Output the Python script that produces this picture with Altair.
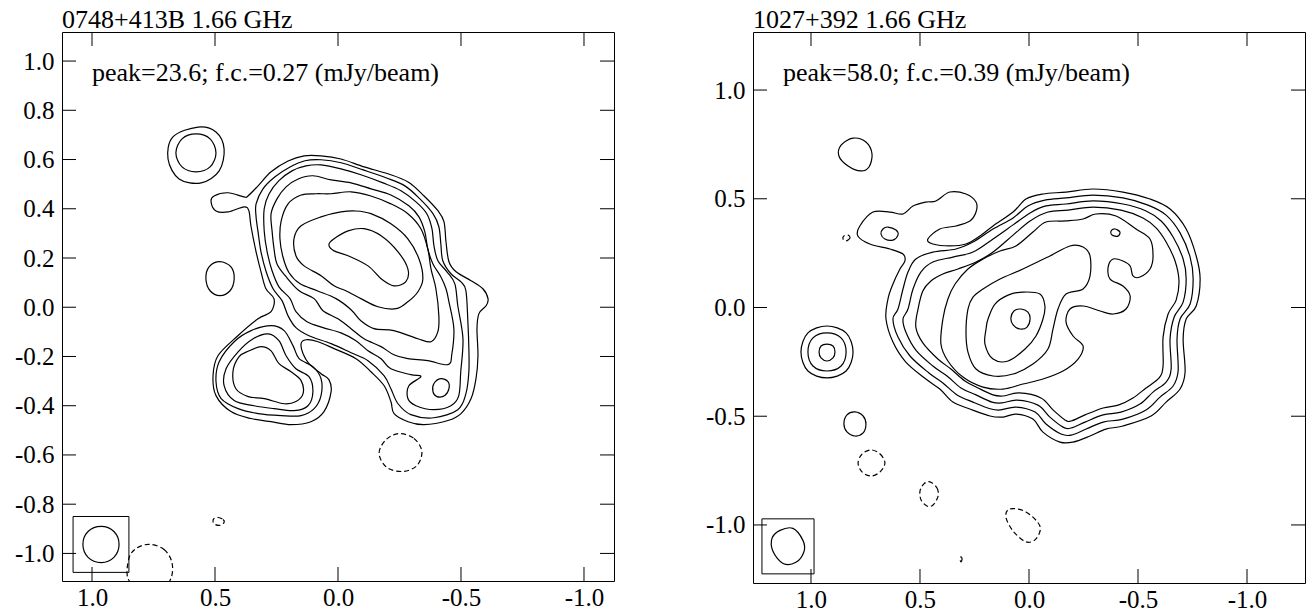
import altair as alt
import pandas as pd

# ---------------- text ----------------
TITLE_L = "0748+413B 1.66 GHz"
TITLE_R = "1027+392 1.66 GHz"
NOTE_L = "peak=23.6; f.c.=0.27 (mJy/beam)"
NOTE_R = "peak=58.0; f.c.=0.39 (mJy/beam)"

# ---------------- axes (arcsec) ----------------
XTICKS = [1.0, 0.5, 0.0, -0.5, -1.0]
YTICKS_L = [-1.0, -0.8, -0.6, -0.4, -0.2, 0.0, 0.2, 0.4, 0.6, 0.8, 1.0]
YTICKS_R = [-1.0, -0.5, 0.0, 0.5, 1.0]
XDOM_L = [1.122, -1.122]
YDOM_L = [-1.112, 1.118]
XDOM_R = [1.266, -1.266]
YDOM_R = [-1.267, 1.267]

# ---------------- left source: contours (x, y) in arcsec ----------------
L_C1 = [(0.366,0.452),(0.325,0.493),(0.272,0.550),(0.203,0.594),(0.138,0.615),(0.069,0.615),(-0.012,0.602),
        (-0.106,0.570),(-0.203,0.542),(-0.285,0.509),(-0.350,0.452),(-0.407,0.391),(-0.431,0.347),(-0.439,0.266),
        (-0.451,0.185),(-0.480,0.144),(-0.541,0.108),(-0.589,0.075),(-0.610,0.034),(-0.602,0.006),(-0.573,-0.026),
        (-0.565,-0.087),(-0.569,-0.197),(-0.561,-0.290),(-0.541,-0.371),(-0.500,-0.432),(-0.447,-0.460),(-0.350,-0.477),
        (-0.285,-0.465),(-0.228,-0.432),(-0.215,-0.383),(-0.187,-0.318),(-0.134,-0.262),(-0.073,-0.209),(0.016,-0.168),
        (0.081,-0.140),(0.130,-0.132),(0.150,-0.148),(0.142,-0.189),(0.118,-0.229),(0.069,-0.270),(0.037,-0.294),
        (0.028,-0.343),(0.057,-0.424),(0.110,-0.465),(0.191,-0.477),(0.272,-0.465),(0.354,-0.452),(0.435,-0.424),
        (0.496,-0.359),(0.508,-0.278),(0.488,-0.197),(0.407,-0.116),(0.325,-0.047),(0.272,-0.018),(0.260,0.034),
        (0.293,0.075),(0.313,0.144),(0.333,0.225),(0.354,0.331),(0.362,0.391),(0.382,0.408),(0.447,0.387),
        (0.496,0.391),(0.516,0.428),(0.504,0.452),(0.447,0.465),(0.382,0.448)]
L_C2 = [(0.333,0.420),(0.305,0.481),(0.256,0.530),(0.195,0.570),(0.134,0.595),(0.069,0.599),(-0.012,0.587),
        (-0.102,0.558),(-0.195,0.526),(-0.272,0.493),(-0.333,0.440),(-0.386,0.380),(-0.410,0.327),(-0.418,0.258),
        (-0.426,0.189),(-0.459,0.136),(-0.499,0.104),(-0.520,0.067),(-0.528,-0.059),(-0.532,-0.168),(-0.532,-0.262),
        (-0.520,-0.351),(-0.487,-0.416),(-0.390,-0.449),(-0.296,-0.436),(-0.244,-0.392),(-0.215,-0.331),(-0.187,-0.278),
        (-0.122,-0.217),(-0.053,-0.185),(0.028,-0.148),(0.118,-0.116),(0.171,-0.083),(0.203,-0.035),(0.227,0.026),
        (0.264,0.075),(0.292,0.144),(0.313,0.225),(0.325,0.306),(0.333,0.367)]
L_C3 = [(0.300,0.400),(0.280,0.461),(0.240,0.514),(0.187,0.554),(0.130,0.574),(0.069,0.578),(-0.012,0.562),
        (-0.093,0.538),(-0.183,0.505),(-0.256,0.473),(-0.317,0.428),(-0.361,0.380),(-0.382,0.319),(-0.390,0.250),
        (-0.406,0.189),(-0.443,0.144),(-0.475,0.095),(-0.487,0.006),(-0.508,-0.128),(-0.499,-0.262),(-0.491,-0.359),
        (-0.459,-0.400),(-0.390,-0.416),(-0.317,-0.400),(-0.284,-0.371),(-0.288,-0.319),(-0.337,-0.282),(-0.296,-0.274),
        (-0.215,-0.250),(-0.175,-0.209),(-0.122,-0.177),(-0.073,-0.136),(-0.012,-0.104),(0.061,-0.083),(0.126,-0.059),
        (0.171,-0.018),(0.195,0.035),(0.240,0.083),(0.268,0.148),(0.288,0.225),(0.300,0.310)]
L_C4 = [(0.272,0.380),(0.248,0.440),(0.211,0.489),(0.162,0.521),(0.102,0.534),(0.028,0.517),(-0.053,0.505),
        (-0.134,0.481),(-0.215,0.456),(-0.288,0.412),(-0.329,0.367),(-0.353,0.306),(-0.365,0.237),(-0.386,0.176),
        (-0.418,0.124),(-0.439,0.075),(-0.451,0.022),(-0.471,-0.087),(-0.463,-0.189),(-0.447,-0.233),(-0.365,-0.217),
        (-0.284,-0.209),(-0.227,-0.193),(-0.175,-0.160),(-0.106,-0.128),(-0.053,-0.087),(0.000,-0.047),(0.061,-0.014),
        (0.097,0.035),(0.158,0.067),(0.211,0.124),(0.248,0.176),(0.260,0.237),(0.268,0.310)]
L_C4B = [(-0.418,-0.290),(-0.447,-0.302),(-0.451,-0.331),(-0.434,-0.359),(-0.402,-0.363),(-0.386,-0.343),(-0.390,-0.310)]
L_C5 = [(0.231,0.351),(0.203,0.420),(0.150,0.456),(0.089,0.461),(0.028,0.461),(-0.053,0.469),(-0.134,0.452),
        (-0.215,0.420),(-0.284,0.380),(-0.337,0.319),(-0.365,0.237),(-0.378,0.156),(-0.398,0.075),(-0.410,-0.035),
        (-0.406,-0.099),(-0.378,-0.140),(-0.325,-0.128),(-0.227,-0.095),(-0.146,-0.087),(-0.093,-0.055),(-0.053,-0.010),
        (0.008,0.035),(0.085,0.067),(0.154,0.095),(0.199,0.140),(0.224,0.205),(0.236,0.278)]
L_C6 = [(0.179,0.278),(0.150,0.331),(0.069,0.367),(-0.012,0.387),(-0.073,0.391),(-0.134,0.380),(-0.215,0.339),
        (-0.284,0.278),(-0.329,0.197),(-0.345,0.116),(-0.325,0.063),(-0.284,0.022),(-0.236,-0.006),(-0.162,0.002),
        (-0.093,0.035),(-0.032,0.067),(0.016,0.087),(0.069,0.128),(0.138,0.168),(0.171,0.209)]
L_C7 = [(0.037,0.254),(0.016,0.278),(-0.041,0.310),(-0.106,0.319),(-0.175,0.290),(-0.244,0.225),(-0.284,0.156),
        (-0.276,0.104),(-0.227,0.087),(-0.175,0.116),(-0.122,0.168),(-0.041,0.209),(0.016,0.229)]
L_B2 = [(0.272,-0.075),(0.219,-0.095),(0.183,-0.156),(0.158,-0.209),(0.102,-0.241),(0.069,-0.290),(0.069,-0.359),
        (0.097,-0.412),(0.150,-0.440),(0.231,-0.440),(0.325,-0.432),(0.406,-0.412),(0.475,-0.371),(0.496,-0.302),
        (0.483,-0.221),(0.422,-0.140),(0.353,-0.095)]
L_B3 = [(0.284,-0.108),(0.240,-0.136),(0.211,-0.197),(0.171,-0.250),(0.118,-0.282),(0.102,-0.343),(0.122,-0.400),
        (0.179,-0.420),(0.260,-0.412),(0.341,-0.400),(0.422,-0.379),(0.463,-0.318),(0.455,-0.250),(0.406,-0.181),
        (0.345,-0.128)]
L_B4 = [(0.313,-0.160),(0.272,-0.177),(0.240,-0.229),(0.191,-0.262),(0.150,-0.298),(0.142,-0.351),(0.171,-0.383),
        (0.219,-0.392),(0.300,-0.371),(0.365,-0.363),(0.415,-0.331),(0.427,-0.262),(0.402,-0.201),(0.361,-0.177)]
L_R1 = [(0.569,0.732),(0.496,0.712),(0.463,0.643),(0.483,0.554),(0.556,0.505),(0.646,0.521),(0.691,0.602),(0.671,0.692)]
L_R2 = [(0.577,0.704),(0.520,0.684),(0.496,0.627),(0.520,0.570),(0.577,0.550),(0.634,0.570),(0.659,0.627),(0.634,0.684)]
L_S1 = [(0.480,0.185),(0.435,0.164),(0.422,0.116),(0.439,0.067),(0.480,0.047),(0.520,0.067),(0.537,0.116),(0.524,0.164)]
# negative (dashed) contours
L_N1 = [(-0.248,-0.513),(-0.309,-0.533),(-0.341,-0.586),(-0.321,-0.643),(-0.264,-0.667),(-0.199,-0.651),(-0.167,-0.594),(-0.195,-0.538)]
L_N2 = [(0.487,-0.854),(0.467,-0.862),(0.463,-0.874),(0.480,-0.886),(0.500,-0.882),(0.508,-0.870),(0.504,-0.858)]
L_N3 = [(0.768,-0.963),(0.707,-0.984),(0.675,-1.037),(0.679,-1.101),(0.720,-1.150),(0.801,-1.150),(0.854,-1.101),(0.850,-1.020),(0.821,-0.980)]
# restoring beam
L_BEAM = [(0.963,-0.890),(0.911,-0.911),(0.890,-0.963),(0.911,-1.016),(0.963,-1.037),(1.016,-1.016),(1.037,-0.963),(1.016,-0.911)]
L_BOX = [1.077, 0.850, -0.850, -1.077]

# ---------------- right source ----------------
R_C1 = [(0.785,0.329),(0.776,0.375),(0.716,0.439),(0.638,0.439),(0.578,0.430),(0.532,0.467),(0.473,0.485),(0.427,0.490),
        (0.363,0.531),(0.289,0.522),(0.243,0.485),(0.243,0.439),(0.271,0.398),(0.335,0.375),(0.409,0.361),(0.464,0.315),
        (0.441,0.292),(0.363,0.283),(0.289,0.292),(0.225,0.329),(0.165,0.375),(0.073,0.439),(0.014,0.499),(-0.064,0.522),
        (-0.170,0.531),(-0.294,0.545),(-0.431,0.531),(-0.555,0.499),(-0.647,0.453),(-0.721,0.361),(-0.767,0.237),
        (-0.785,0.131),(-0.767,0.007),(-0.721,-0.053),(-0.707,-0.145),(-0.716,-0.297),(-0.693,-0.375),(-0.629,-0.435),
        (-0.560,-0.499),(-0.431,-0.545),(-0.353,-0.559),(-0.280,-0.591),(-0.202,-0.619),(-0.142,-0.619),(-0.064,-0.573),
        (-0.018,-0.513),(0.060,-0.490),(0.119,-0.504),(0.179,-0.499),(0.271,-0.467),(0.349,-0.435),(0.409,-0.375),
        (0.473,-0.329),(0.565,-0.251),(0.624,-0.159),(0.656,-0.053),(0.647,0.039),(0.624,0.108),(0.592,0.177),
        (0.569,0.214),(0.578,0.246),(0.638,0.269),(0.730,0.292)]
R_C2 = [(0.601,-0.007),(0.578,0.085),(0.555,0.163),(0.519,0.223),(0.441,0.255),(0.335,0.269),(0.257,0.301),(0.165,0.361),
        (0.073,0.412),(0.005,0.467),(-0.073,0.494),(-0.170,0.504),(-0.294,0.517),(-0.431,0.504),(-0.546,0.471),
        (-0.629,0.425),(-0.693,0.343),(-0.739,0.232),(-0.753,0.131),(-0.739,0.016),(-0.693,-0.053),(-0.679,-0.145),
        (-0.684,-0.292),(-0.661,-0.361),(-0.601,-0.412),(-0.537,-0.471),(-0.431,-0.513),(-0.340,-0.527),(-0.262,-0.559),
        (-0.193,-0.587),(-0.147,-0.582),(-0.078,-0.536),(-0.028,-0.481),(0.060,-0.458),(0.129,-0.471),(0.174,-0.467),
        (0.257,-0.435),(0.330,-0.402),(0.395,-0.347),(0.459,-0.301),(0.546,-0.223),(0.601,-0.136),(0.624,-0.053)]
R_C3 = [(0.555,-0.007),(0.532,0.085),(0.496,0.163),(0.441,0.209),(0.349,0.232),(0.257,0.255),(0.165,0.315),(0.073,0.380),
        (-0.005,0.435),(-0.078,0.467),(-0.170,0.476),(-0.294,0.490),(-0.431,0.476),(-0.537,0.444),(-0.606,0.398),
        (-0.661,0.324),(-0.707,0.223),(-0.721,0.131),(-0.707,0.025),(-0.666,-0.044),(-0.647,-0.145),(-0.652,-0.283),
        (-0.629,-0.343),(-0.569,-0.389),(-0.509,-0.444),(-0.422,-0.481),(-0.340,-0.494),(-0.257,-0.527),(-0.193,-0.554),
        (-0.156,-0.550),(-0.096,-0.504),(-0.041,-0.449),(0.055,-0.426),(0.124,-0.439),(0.170,-0.435),(0.243,-0.402),
        (0.312,-0.370),(0.376,-0.315),(0.441,-0.269),(0.519,-0.196),(0.565,-0.113),(0.578,-0.053)]
R_C4 = [(0.509,-0.007),(0.487,0.076),(0.450,0.122),(0.395,0.154),(0.326,0.177),(0.243,0.209),(0.165,0.255),(0.073,0.333),
        (-0.005,0.398),(-0.087,0.439),(-0.179,0.448),(-0.294,0.462),(-0.422,0.448),(-0.523,0.412),(-0.583,0.366),
        (-0.629,0.301),(-0.670,0.214),(-0.688,0.122),(-0.675,0.034),(-0.638,-0.030),(-0.615,-0.136),(-0.615,-0.269),
        (-0.597,-0.324),(-0.537,-0.370),(-0.477,-0.416),(-0.409,-0.449),(-0.340,-0.462),(-0.257,-0.494),(-0.193,-0.522),
        (-0.165,-0.517),(-0.110,-0.471),(-0.055,-0.416),(0.046,-0.393),(0.119,-0.407),(0.165,-0.402),(0.234,-0.370),
        (0.294,-0.338),(0.358,-0.283),(0.418,-0.237),(0.487,-0.163),(0.519,-0.090)]
R_C5 = [(0.280,0.177),(0.211,0.223),(0.133,0.260),(0.060,0.283),(-0.018,0.347),(-0.078,0.393),(-0.170,0.398),
        (-0.248,0.407),(-0.307,0.430),(-0.399,0.421),(-0.491,0.361),(-0.555,0.315),(-0.569,0.237),(-0.555,0.177),
        (-0.509,0.140),(-0.477,0.145),(-0.464,0.191),(-0.431,0.214),(-0.386,0.223),(-0.363,0.186),(-0.372,0.131),
        (-0.431,0.099),(-0.464,0.053),(-0.445,-0.007),(-0.386,-0.030),(-0.326,-0.016),(-0.248,0.007),(-0.188,-0.007),
        (-0.170,-0.067),(-0.202,-0.131),(-0.248,-0.177),(-0.225,-0.237),(-0.156,-0.292),(-0.064,-0.329),(0.028,-0.352),
        (0.119,-0.375),(0.211,-0.366),(0.303,-0.320),(0.372,-0.246),(0.404,-0.168),(0.395,-0.053),(0.372,0.039),
        (0.339,0.108)]
R_C6 = [(0.257,0.048),(0.211,0.085),(0.133,0.131),(0.028,0.177),(-0.096,0.237),(-0.188,0.283),(-0.248,0.278),
        (-0.280,0.237),(-0.280,0.145),(-0.248,0.085),(-0.170,0.062),(-0.133,-0.007),(-0.110,-0.099),(-0.087,-0.191),
        (-0.018,-0.260),(0.073,-0.306),(0.165,-0.315),(0.243,-0.283),(0.280,-0.205),(0.289,-0.113),(0.280,-0.007)]
R_C7 = [(0.188,-0.053),(0.156,0.016),(0.096,0.057),(0.028,0.071),(-0.050,0.062),(-0.073,0.007),(-0.064,-0.053),
        (-0.032,-0.131),(0.018,-0.191),(0.096,-0.246),(0.165,-0.237),(0.202,-0.168),(0.197,-0.099)]
R_C8 = [(0.037,-0.007),(0.005,-0.021),(-0.005,-0.053),(0.009,-0.090),(0.041,-0.099),(0.073,-0.080),(0.083,-0.048),(0.069,-0.016)]
R_I2 = [(0.647,0.370),(0.610,0.356),(0.601,0.333),(0.624,0.310),(0.661,0.315),(0.679,0.338),(0.670,0.361)]
R_I6 = [(-0.394,0.361),(-0.417,0.347),(-0.408,0.328),(-0.381,0.333),(-0.376,0.351)]
R_S1 = [(0.807,0.779),(0.748,0.761),(0.720,0.706),(0.734,0.646),(0.771,0.628),(0.830,0.651),(0.872,0.697),(0.862,0.747)]
R_S2 = [(0.798,-0.480),(0.761,-0.499),(0.748,-0.536),(0.761,-0.577),(0.798,-0.591),(0.835,-0.572),(0.849,-0.536),(0.835,-0.494)]
R_Q1 = [(0.927,-0.085),(0.839,-0.117),(0.807,-0.205),(0.839,-0.292),(0.927,-0.324),(1.014,-0.292),(1.046,-0.205),(1.014,-0.117)]
R_Q2 = [(0.927,-0.117),(0.862,-0.140),(0.839,-0.205),(0.862,-0.269),(0.927,-0.292),(0.991,-0.269),(1.014,-0.205),(0.991,-0.140)]
R_Q3 = [(0.927,-0.168),(0.899,-0.177),(0.890,-0.205),(0.899,-0.232),(0.927,-0.246),(0.954,-0.232),(0.963,-0.205),(0.954,-0.177)]
R_N1 = [(0.725,-0.655),(0.683,-0.674),(0.661,-0.715),(0.683,-0.756),(0.725,-0.775),(0.766,-0.756),(0.784,-0.715),(0.766,-0.674)]
R_N2 = [(0.454,-0.802),(0.422,-0.830),(0.417,-0.867),(0.440,-0.908),(0.468,-0.913),(0.495,-0.885),(0.500,-0.844),(0.482,-0.811)]
R_N3 = [(0.087,-0.926),(0.014,-0.940),(-0.050,-1.005),(-0.032,-1.064),(0.014,-1.078),(0.073,-1.028),(0.106,-0.963)]
R_N4 = [(0.312,-1.147),(0.307,-1.156),(0.312,-1.170),(0.317,-1.156)]
R_N5 = [(0.830,0.333),(0.821,0.320),(0.839,0.306),(0.853,0.315),(0.849,0.329)]
R_BEAM = [(1.083,-1.016),(1.037,-1.071),(1.032,-1.122),(1.069,-1.172),(1.128,-1.177),(1.174,-1.122),(1.179,-1.062),(1.142,-1.025)]
R_BOX = [1.225, 0.986, -0.972, -1.225]

LEFT_SOLID = [L_C1, L_C2, L_C3, L_C4, L_C4B, L_C5, L_C6, L_C7, L_B2, L_B3, L_B4, L_R1, L_R2, L_S1, L_BEAM]
LEFT_DASH = [L_N1, L_N2, L_N3]
RIGHT_SOLID = [R_C1, R_C2, R_C3, R_C4, R_C5, R_C6, R_C7, R_C8, R_I2, R_I6, R_S1, R_S2, R_Q1, R_Q2, R_Q3, R_BEAM]
RIGHT_DASH = [R_N1, R_N2, R_N3, R_N4, R_N5]

FONT = "Liberation Serif"
TICK = 14


def to_frame(contours):
    rows = []
    for i, pts in enumerate(contours):
        for k, (x, y) in enumerate(pts):
            rows.append({"cid": i, "k": k, "x": x, "y": y})
    return pd.DataFrame(rows)


LAB = "replace(format(datum.value, '.1f'), '\u2212', '-')"


def panel(title, note, solid, dashed, box, xdom, ydom, yticks, w, h):
    xs = alt.Scale(domain=xdom, nice=False, zero=False)
    ys = alt.Scale(domain=ydom, nice=False, zero=False)
    common = dict(ticks=False, domain=False, grid=False, title=None, labelFont=FONT,
                  labelFontSize=25, labelColor="black", labelExpr=LAB)
    xaxis = alt.Axis(values=XTICKS, labelPadding=4, **common)
    yaxis = alt.Axis(values=yticks, labelPadding=8, **common)

    def X(f):
        return alt.X(f, scale=xs, axis=xaxis)

    def Y(f):
        return alt.Y(f, scale=ys, axis=yaxis)

    sol = alt.Chart(to_frame(solid)).mark_line(
        interpolate="cardinal-closed", color="black", strokeWidth=1.2, clip=True
    ).encode(x=X("x:Q"), y=Y("y:Q"), detail="cid:N", order="k:Q")
    das = alt.Chart(to_frame(dashed)).mark_line(
        interpolate="cardinal-closed", color="black", strokeWidth=1.2, clip=True, strokeDash=[5, 3]
    ).encode(x=X("x:Q"), y=Y("y:Q"), detail="cid:N", order="k:Q")

    bdf = pd.DataFrame([{"x": box[0], "x2": box[1], "y": box[2], "y2": box[3]}])
    boxm = alt.Chart(bdf).mark_rect(fillOpacity=0, stroke="black", strokeWidth=1).encode(
        x=X("x:Q"), x2="x2:Q", y=Y("y:Q"), y2="y2:Q")

    xt = pd.DataFrame({"x": XTICKS})
    yt = pd.DataFrame({"y": yticks})
    tb = alt.Chart(xt).mark_rule(color="black", strokeWidth=1).encode(
        x=X("x:Q"), y=alt.value(h), y2=alt.value(h - TICK))
    tt = alt.Chart(xt).mark_rule(color="black", strokeWidth=1).encode(
        x=X("x:Q"), y=alt.value(0), y2=alt.value(TICK))
    tl = alt.Chart(yt).mark_rule(color="black", strokeWidth=1).encode(
        y=Y("y:Q"), x=alt.value(0), x2=alt.value(TICK))
    tr = alt.Chart(yt).mark_rule(color="black", strokeWidth=1).encode(
        y=Y("y:Q"), x=alt.value(w), x2=alt.value(w - TICK))

    txt = alt.Chart(pd.DataFrame({"t": [note]})).mark_text(
        align="left", baseline="alphabetic", font=FONT, fontSize=26, color="black"
    ).encode(text="t:N", x=alt.value(30), y=alt.value(49))

    return alt.layer(sol, das, boxm, tb, tt, tl, tr, txt).properties(
        width=w, height=h,
        title=alt.TitleParams(title, anchor="start", frame="group", font=FONT, fontSize=26,
                              fontWeight="normal", color="black", offset=4, dy=5))


left = panel(TITLE_L, NOTE_L, LEFT_SOLID, LEFT_DASH, L_BOX, XDOM_L, YDOM_L, YTICKS_L, 552, 549)
right = panel(TITLE_R, NOTE_R, RIGHT_SOLID, RIGHT_DASH, R_BOX, XDOM_R, YDOM_R, YTICKS_R, 552, 551)

chart = alt.hconcat(left, right, spacing=89).configure_view(
    stroke="black", strokeWidth=1
).properties(padding={"left": 13, "top": 6, "right": 0, "bottom": 0}, background="white")

chart.save("out.html", embed_options={"renderer": "svg", "actions": False})
